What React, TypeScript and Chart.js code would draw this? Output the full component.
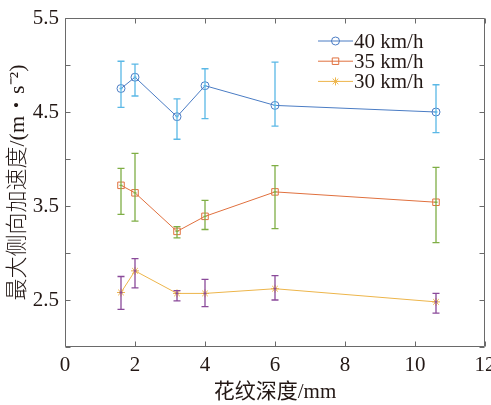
import React, { useEffect, useRef } from 'react';
import { Chart, registerables } from 'chart.js';

Chart.register(...registerables);

const depths = [1.6, 2, 3.2, 4, 6, 10.6];
const seriesLabels = ['40 km/h', '35 km/h', '30 km/h'];
const mean40 = [4.75, 4.87, 4.45, 4.78, 4.57, 4.5];
const low40 = [4.55, 4.67, 4.21, 4.43, 4.35, 4.28];
const high40 = [5.04, 5.01, 4.64, 4.96, 5.03, 4.79];
const mean35 = [3.72, 3.64, 3.23, 3.39, 3.65, 3.54];
const low35 = [3.41, 3.34, 3.16, 3.25, 3.26, 3.11];
const high35 = [3.9, 4.06, 3.28, 3.56, 3.93, 3.91];
const mean30 = [2.58, 2.81, 2.57, 2.57, 2.62, 2.48];
const low30 = [2.4, 2.63, 2.49, 2.43, 2.5, 2.36];
const high30 = [2.75, 2.94, 2.6, 2.72, 2.76, 2.57];
const yLabelled = [2.5, 3.5, 4.5, 5.5];
const xTitle = '花纹深度/mm';
const yTitle = '最大侧向加速度/(m・s⁻²)';

const FONT = "'Liberation Serif', 'Times New Roman', 'Noto Sans CJK SC', serif";
const TEXT = '#231815';
const lineColors = ['#4a7cc4', '#e0703e', '#edb54a'];
const errColors = ['#5ab8e6', '#7fae45', '#8a4a9a'];
const markers = ['circle', 'rect', 'star'];

const means = [mean40, mean35, mean30];
const lows = [low40, low35, low30];
const highs = [high40, high35, high30];

function drawMarker(ctx: CanvasRenderingContext2D, style: string, x: number, y: number, r: number, color: string) {
  ctx.save();
  ctx.strokeStyle = color;
  ctx.lineWidth = 1;
  ctx.beginPath();
  if (style === 'circle') {
    ctx.arc(x, y, r, 0, Math.PI * 2);
  } else if (style === 'rect') {
    const s = r * Math.SQRT1_2;
    ctx.rect(x - s, y - s, 2 * s, 2 * s);
  } else {
    for (let k = 0; k < 4; k++) {
      const a = (k * Math.PI) / 4;
      ctx.moveTo(x - r * Math.cos(a), y - r * Math.sin(a));
      ctx.lineTo(x + r * Math.cos(a), y + r * Math.sin(a));
    }
  }
  ctx.stroke();
  ctx.restore();
}

const errorBars = {
  id: 'errorBars',
  afterDatasetsDraw(chart: any) {
    const { ctx, scales } = chart;
    const xs = scales.x;
    const ys = scales.y;
    ctx.save();
    means.forEach((m, i) => {
      ctx.strokeStyle = errColors[i];
      ctx.lineWidth = 1.3;
      depths.forEach((d, j) => {
        const px = xs.getPixelForValue(d);
        const pl = ys.getPixelForValue(lows[i][j]);
        const ph = ys.getPixelForValue(highs[i][j]);
        const pm = ys.getPixelForValue(m[j]);
        ctx.beginPath();
        ctx.moveTo(px, pl);
        ctx.lineTo(px, ph);
        ctx.moveTo(px - 3.5, pl);
        ctx.lineTo(px + 3.5, pl);
        ctx.moveTo(px - 3.5, ph);
        ctx.lineTo(px + 3.5, ph);
        ctx.moveTo(px - 1.5, pm);
        ctx.lineTo(px + 1.5, pm);
        ctx.stroke();
      });
    });
    ctx.restore();
  },
};

const frame = {
  id: 'frame',
  afterDraw(chart: any) {
    const { ctx, chartArea: a, scales } = chart;
    ctx.save();
    ctx.strokeStyle = '#6a6a6a';
    ctx.lineWidth = 1;
    const L = Math.round(a.left) + 0.5;
    const R = Math.round(a.right) - 0.5;
    const T = Math.round(a.top) + 0.5;
    const B = Math.round(a.bottom) - 0.5;
    ctx.beginPath();
    ctx.rect(L, T, R - L, B - T);
    const tl = 5;
    scales.x.ticks.forEach((t: any) => {
      const px = Math.round(scales.x.getPixelForValue(t.value)) + 0.5;
      ctx.moveTo(px, B);
      ctx.lineTo(px, B - tl);
      ctx.moveTo(px, T);
      ctx.lineTo(px, T + tl);
    });
    scales.y.ticks.forEach((t: any) => {
      const py = Math.round(scales.y.getPixelForValue(t.value)) + 0.5;
      ctx.moveTo(L, py);
      ctx.lineTo(L + tl, py);
      ctx.moveTo(R, py);
      ctx.lineTo(R - tl, py);
    });
    ctx.stroke();
    ctx.restore();
  },
};

const legendBox = {
  id: 'legendBox',
  afterDraw(chart: any) {
    const { ctx } = chart;
    ctx.save();
    ctx.font = `21px ${FONT}`;
    ctx.textBaseline = 'middle';
    ctx.textAlign = 'left';
    seriesLabels.forEach((lab, i) => {
      const y = 41 + i * 20.2;
      ctx.strokeStyle = lineColors[i];
      ctx.lineWidth = 1;
      ctx.beginPath();
      ctx.moveTo(318, y);
      ctx.lineTo(353, y);
      ctx.stroke();
      drawMarker(ctx, markers[i], 335.5, y, i === 1 ? 4.6 : 4, lineColors[i]);
      ctx.fillStyle = TEXT;
      ctx.fillText(lab, 354, y + 1);
    });
    ctx.restore();
  },
};

export default function App() {
  const ref = useRef<HTMLCanvasElement>(null);
  useEffect(() => {
    document.body.style.margin = '0';
    const canvas = ref.current!;
    const chart = new Chart(canvas, {
      type: 'line',
      data: {
        datasets: means.map((m, i) => ({
          label: seriesLabels[i],
          data: depths.map((d, j) => ({ x: d, y: m[j] })),
          borderColor: lineColors[i],
          backgroundColor: 'rgba(0,0,0,0)',
          borderWidth: 1,
          pointStyle: markers[i] as any,
          pointRadius: i === 1 ? 4.6 : 4,
          pointBorderWidth: 1,
          pointBorderColor: lineColors[i],
          pointBackgroundColor: 'rgba(0,0,0,0)',
          tension: 0,
          fill: false,
        })),
      },
      options: {
        responsive: false,
        animation: false,
        devicePixelRatio: 1,
        layout: { padding: { left: 0, right: 6, top: 18, bottom: 0 } },
        plugins: { legend: { display: false }, tooltip: { enabled: false } },
        scales: {
          x: {
            type: 'linear',
            min: 0,
            max: 12,
            grid: { display: false, drawTicks: false },
            border: { display: false },
            ticks: {
              stepSize: 2,
              padding: 6,
              color: TEXT,
              font: { family: FONT, size: 21 },
              maxRotation: 0,
            },
            title: {
              display: true,
              text: xTitle,
              color: TEXT,
              font: { family: FONT, size: 21 },
              padding: { top: 0, bottom: 0 },
            },
            afterFit(s: any) {
              s.height = 58;
              s.paddingLeft = 0;
              s.paddingRight = 0;
            },
          },
          y: {
            type: 'linear',
            min: 2,
            max: 5.5,
            grid: { display: false, drawTicks: false },
            border: { display: false },
            ticks: {
              stepSize: 0.5,
              padding: 6,
              color: TEXT,
              font: { family: FONT, size: 21 },
              callback: (v: any) => (yLabelled.includes(Number(v)) ? Number(v).toFixed(1) : ''),
            },
            title: {
              display: true,
              text: yTitle,
              color: TEXT,
              font: { family: FONT, size: 22, weight: '300' as any },
              padding: { top: 5, bottom: 0 },
            },
            afterFit(s: any) {
              s.width = 65;
              s.paddingTop = 0;
              s.paddingBottom = 0;
            },
          },
        },
      },
      plugins: [errorBars, frame, legendBox],
    });
    return () => chart.destroy();
  }, []);
  return (
    <div style={{ width: 491, height: 405, background: '#fff' }}>
      <canvas ref={ref} width={491} height={405} />
    </div>
  );
}
